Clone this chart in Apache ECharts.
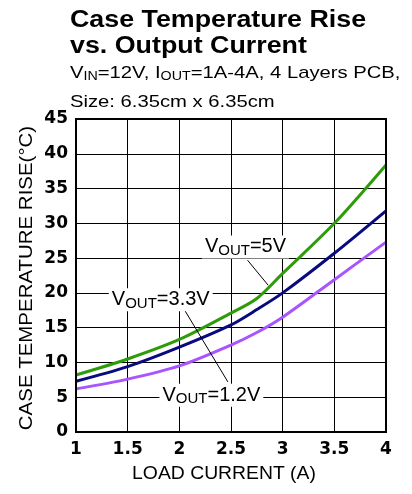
<!DOCTYPE html>
<html>
<head>
<meta charset="utf-8">
<script src="https://cdn.jsdelivr.net/npm/echarts@6/dist/echarts.min.js"></script>
<style>
  html, body { margin: 0; padding: 0; background: #fff; }
  #chart { width: 412px; height: 494px; }
</style>
</head>
<body>
<div id="chart"></div>
<script>
var current = [1, 1.5, 2, 2.5, 2.75, 3, 3.5, 4];
var vout5 = [8.2, 10.5, 13.3, 17.1, 19.2, 22.8, 30.0, 38.4];
var vout33 = [7.3, 9.4, 12.2, 15.4, 17.6, 20.0, 25.7, 31.8];
var vout12 = [6.2, 7.6, 9.5, 12.5, 14.3, 16.5, 21.9, 27.3];

var xTicks = [1, 1.5, 2, 2.5, 3, 3.5, 4];
var yTicks = [0, 5, 10, 15, 20, 25, 30, 35, 40, 45];

// label positions in data units: [x, y]
var labels = [
  { text: '5V', at: [2.64, 26.6], line: [[2.66, 24.7], [2.86, 21.1]] },
  { text: '3.3V', at: [1.82, 19.0], line: [[2.04, 17.8], [2.47, 7.2]] },
  { text: '1.2V', at: [2.31, 5.3], line: null }
];

function pairs(ys) {
  return current.map(function (x, i) { return [x, ys[i]]; });
}

var chart = echarts.init(document.getElementById('chart'));
var font = 'Liberation Sans, Arial, sans-serif';
var wide = 'DejaVu Sans, sans-serif';

var option = {
  animation: false,
  textStyle: { fontFamily: font },
  grid: { left: 76, right: 26, top: 119, bottom: 62 },
  xAxis: {
    type: 'value', min: 1, max: 4, interval: 0.5,
    axisLine: { lineStyle: { color: '#000', width: 2 } },
    axisTick: { show: false },
    axisLabel: { color: '#000', fontSize: 17, fontWeight: 'bold', fontFamily: wide, margin: 9,
      formatter: function (v) { return xTicks.indexOf(v) >= 0 ? String(v) : ''; } },
    splitLine: { lineStyle: { color: '#000', width: 1 } }
  },
  yAxis: {
    type: 'value', min: 0, max: 45, interval: 5,
    axisLine: { show: true, lineStyle: { color: '#000', width: 2 } },
    axisTick: { show: false },
    axisLabel: { color: '#000', fontSize: 17, fontWeight: 'bold', fontFamily: wide, margin: 8,
      formatter: function (v) { return yTicks.indexOf(v) >= 0 ? String(v) : ''; } },
    splitLine: { lineStyle: { color: '#000', width: 1 } }
  },
  series: [
    { name: '5V', type: 'line', data: pairs(vout5), smooth: 0.3, symbol: 'none',
      lineStyle: { color: '#2e9c0a', width: 3 }, z: 5 },
    { name: '3.3V', type: 'line', data: pairs(vout33), smooth: 0.3, symbol: 'none',
      lineStyle: { color: '#0a0a80', width: 3 }, z: 5 },
    { name: '1.2V', type: 'line', data: pairs(vout12), smooth: 0.3, symbol: 'none',
      lineStyle: { color: '#a855ff', width: 3 }, z: 5 }
  ]
};
chart.setOption(option);

// frame on top and right
var gr = [];
var tl = chart.convertToPixel({ gridIndex: 0 }, [1, 45]);
var br = chart.convertToPixel({ gridIndex: 0 }, [4, 0]);
gr.push({ type: 'rect', shape: { x: tl[0], y: tl[1], width: br[0] - tl[0], height: br[1] - tl[1] },
  style: { fill: null, stroke: '#000', lineWidth: 2 }, z: 10 });

// titles (stretched a bit to match the wide original lettering)
gr.push({ type: 'text', x: 70, y: 8, scaleX: 1.166, z: 20,
  style: { text: 'Case Temperature Rise\nvs. Output Current', fill: '#000',
    font: 'bold 23px ' + font, lineHeight: 26, verticalAlign: 'top' } });
var sub = { s: { fontSize: 12, fontFamily: font, padding: [7, 0, 0, 0] } };
gr.push({ type: 'text', x: 70, y: 64, scaleX: 1.19, z: 20,
  style: { text: 'V{s|IN}=12V, I{s|OUT}=1A-4A, 4 Layers PCB,', fill: '#000',
    font: '17px ' + font, verticalAlign: 'top', rich: sub } });
gr.push({ type: 'text', x: 70, y: 94, scaleX: 1.19, z: 20,
  style: { text: 'Size: 6.35cm x 6.35cm', fill: '#000',
    font: '17px ' + font, verticalAlign: 'top' } });

// axis names
gr.push({ type: 'text', x: 224, y: 474, scaleX: 1.075, z: 20,
  style: { text: 'LOAD CURRENT (A)', fill: '#000', font: '18px ' + font,
    align: 'center', verticalAlign: 'middle' } });
gr.push({ type: 'text', x: 27, y: 278, rotation: Math.PI / 2, scaleX: 1.136, z: 20,
  style: { text: 'CASE TEMPERATURE RISE(°C)', fill: '#000', font: '18px ' + font,
    align: 'center', verticalAlign: 'middle' } });

// curve labels and leader lines
labels.forEach(function (lb) {
  if (lb.line) {
    var p1 = chart.convertToPixel({ gridIndex: 0 }, lb.line[0]);
    var p2 = chart.convertToPixel({ gridIndex: 0 }, lb.line[1]);
    gr.push({ type: 'line', shape: { x1: p1[0], y1: p1[1], x2: p2[0], y2: p2[1] },
      style: { stroke: '#000', lineWidth: 1 }, z: 15 });
  }
  var c = chart.convertToPixel({ gridIndex: 0 }, lb.at);
  gr.push({ type: 'text', x: c[0], y: c[1], z: 16,
    style: { text: 'V{s|OUT}=' + lb.text, fill: '#000', font: '20px ' + font,
      align: 'center', verticalAlign: 'middle', backgroundColor: '#fff', padding: [0, 3, 0, 3],
      rich: { s: { fontSize: 15, fontFamily: font, padding: [8, 0, 0, 0] } } } });
});

chart.setOption({ graphic: gr });
</script>
</body>
</html>
